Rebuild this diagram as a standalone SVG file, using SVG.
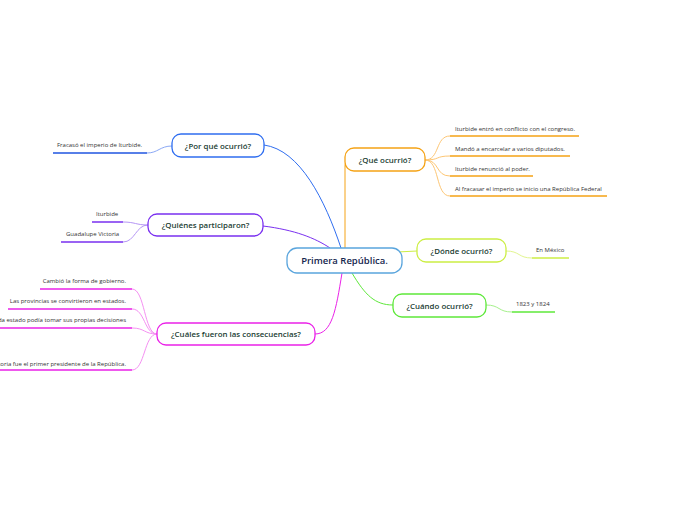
<svg xmlns="http://www.w3.org/2000/svg" width="696" height="520" viewBox="0 0 696 520">
<style>
.node{fill:#fff;stroke-width:1.3}
.t{font-family:"Open Sans","Noto Sans",sans-serif;font-size:7.9px;font-weight:600;fill:#1b3d33;text-anchor:middle}
.c{font-family:"Open Sans","Noto Sans",sans-serif;font-size:9.5px;font-weight:600;fill:#15264e;text-anchor:middle}
.s{font-family:"Open Sans","Noto Sans",sans-serif;font-size:6px;fill:#333}
.e{text-anchor:end}
.l{fill:none;stroke-width:1}
.u{fill:none;stroke-width:1.6}
</style>
<rect width="696" height="520" fill="#fff"/>
<g id="connectors">
<path class="l" stroke="#2f6ef0" stroke-width="1.2" d="M264,145 C300,150 325,200 341,248"/>
<path class="l" stroke="#f5a316" stroke-width="1.2" d="M345,248 L345,166 Q345,160 351,160"/>
<path class="l" stroke="#7a30f0" stroke-width="1.2" d="M263,226 C295,230 315,238 330,248"/>
<path class="l" stroke="#ccee44" stroke-width="1.2" d="M397,252 L417,251"/>
<path class="l" stroke="#5ee83a" stroke-width="1.2" d="M352,273 C365,295 375,305 393,305"/>
<path class="l" stroke="#ea22e8" stroke-width="1.2" d="M342,273 C336,310 332,334 315,334"/>
<path class="l" stroke="#fdc674" d="M425,160 C440,160 435,136 450,136 M425,160 C440,160 435,156 450,156 M425,160 C440,160 435,176 450,176 M425,160 C440,160 435,196 450,196"/>
<path class="l" stroke="#e2f590" d="M506,251 C520,251 518,258 532,258"/>
<path class="l" stroke="#a6f08c" d="M486,305 C500,305 498,312 512,312"/>
<path class="l" stroke="#8aa8f5" d="M172,146 C160,146 158,153 147,153"/>
<path class="l" stroke="#b596f5" d="M148,225 C136,225 135,222 123,222 M148,225 C136,225 135,242 123,242"/>
<path class="l" stroke="#f590f2" d="M157,334 C144,334 145,289 132,289 M157,334 C144,334 145,309 132,309 M157,334 C144,334 145,328 132,328 M157,334 C144,334 145,370 132,370"/>
<path class="u" stroke="#f5a316" d="M450,136 H579 M450,156 H570 M450,176 H533 M450,196 H607"/>
<path class="u" stroke="#ccee44" d="M532,258 H569"/>
<path class="u" stroke="#5ee83a" d="M512,312 H555"/>
<path class="u" stroke="#1f55e0" d="M53,153 H147"/>
<path class="u" stroke="#7a30f0" d="M92,222 H123 M61,242 H123"/>
<path class="u" stroke="#ea22e8" d="M40,289 H132 M8,309 H132 M0,328 H132 M0,370 H132"/>
</g>
<g id="central">
<rect class="node" x="287" y="248" width="115" height="25" rx="10" stroke="#5aa5dd"/>
<text class="c" x="344.5" y="264">Primera República.</text>
</g>
<g id="que">
<rect class="node" x="345" y="148" width="80" height="23" rx="9" stroke="#f5a316"/>
<text class="t" x="385" y="162.5">¿Qué ocurrió?</text>
</g>
<g id="que-1"><text class="s" x="455" y="131">Iturbide entró en conflicto con el congreso.</text></g>
<g id="que-2"><text class="s" x="455" y="151">Mandó a encarcelar a varios diputados.</text></g>
<g id="que-3"><text class="s" x="455" y="171">Iturbide renunció al poder.</text></g>
<g id="que-4"><text class="s" x="455" y="191">Al fracasar el imperio se inicio una República Federal</text></g>
<g id="donde">
<rect class="node" x="417" y="239" width="89" height="23" rx="9" stroke="#ccee44"/>
<text class="t" x="461.5" y="253.5">¿Dónde ocurrió?</text>
</g>
<g id="donde-1"><text class="s" x="536" y="252">En México</text></g>
<g id="cuando">
<rect class="node" x="393" y="294" width="93" height="23" rx="9" stroke="#5ee83a"/>
<text class="t" x="439.5" y="308.5">¿Cuándo ocurrió?</text>
</g>
<g id="cuando-1"><text class="s" x="516" y="306">1823 y 1824</text></g>
<g id="porque">
<rect class="node" x="172" y="134" width="92" height="23" rx="9" stroke="#2f6ef0"/>
<text class="t" x="218" y="148.5">¿Por qué ocurrió?</text>
</g>
<g id="porque-1"><text class="s" x="57" y="147">Fracasó el imperio de Iturbide.</text></g>
<g id="quienes">
<rect class="node" x="148" y="214" width="115" height="22" rx="9" stroke="#7a30f0"/>
<text class="t" x="205.5" y="228">¿Quiénes participaron?</text>
</g>
<g id="quienes-1"><text class="s" x="96" y="216">Iturbide</text></g>
<g id="quienes-2"><text class="s" x="66" y="236">Guadalupe Victoria</text></g>
<g id="cuales">
<rect class="node" x="157" y="323" width="158" height="22" rx="9" stroke="#ea22e8"/>
<text class="t" x="236" y="337">¿Cuáles fueron las consecuencias?</text>
</g>
<g id="cuales-1"><text class="s e" x="126" y="283">Cambió la forma de gobierno.</text></g>
<g id="cuales-2"><text class="s e" x="126" y="303">Las provincias se convirtieron en estados.</text></g>
<g id="cuales-3"><text class="s e" x="126" y="322">Cada estado podía tomar sus propias decisiones</text></g>
<g id="cuales-4"><text class="s e" x="126" y="366">Guadalupe Victoria fue el primer presidente de la República.</text></g>
</svg>
